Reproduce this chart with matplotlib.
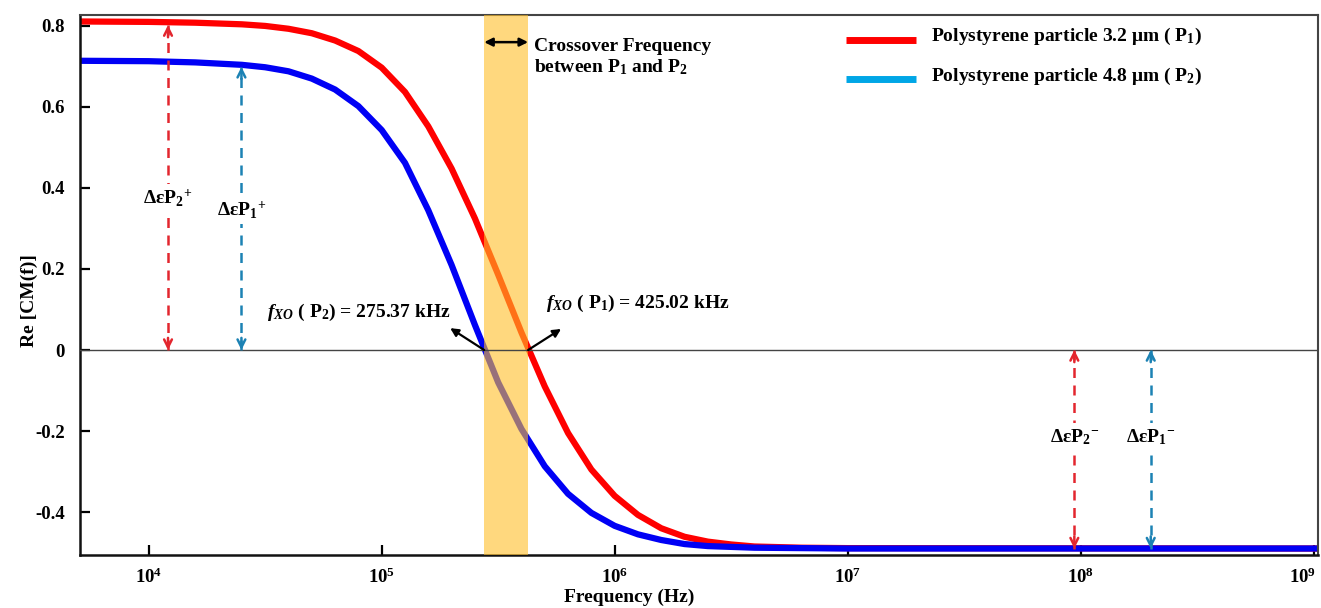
import numpy as np
import matplotlib
matplotlib.use("Agg")
import matplotlib.pyplot as plt
from matplotlib.lines import Line2D
from matplotlib.transforms import ScaledTranslation

# ---------------- data ----------------
red_logf = [3.70, 4.0, 4.2, 4.4, 4.5, 4.6, 4.7, 4.8, 4.9, 5.0, 5.1, 5.2, 5.3, 5.4, 5.5,
            5.6, 5.7, 5.8, 5.9, 6.0, 6.1, 6.2, 6.3, 6.4, 6.5, 6.6, 6.8, 7.0, 9.03]
red_val = [0.811, 0.810, 0.808, 0.804, 0.800, 0.793, 0.782, 0.764, 0.738, 0.697, 0.637,
           0.552, 0.448, 0.325, 0.186, 0.043, -0.090, -0.205, -0.295, -0.360, -0.407,
           -0.440, -0.461, -0.473, -0.480, -0.485, -0.488, -0.489, -0.490]

blue_logf = [3.70, 4.0, 4.2, 4.4, 4.5, 4.6, 4.7, 4.8, 4.9, 5.0, 5.1, 5.2, 5.3, 5.4, 5.5,
             5.6, 5.7, 5.8, 5.9, 6.0, 6.1, 6.2, 6.3, 6.4, 6.6, 7.0, 9.03]
blue_val = [0.714, 0.713, 0.710, 0.704, 0.698, 0.688, 0.670, 0.643, 0.602, 0.543, 0.462,
            0.345, 0.210, 0.062, -0.080, -0.195, -0.287, -0.355, -0.402, -0.434, -0.455,
            -0.469, -0.479, -0.484, -0.488, -0.490, -0.490]

xo_p1 = 425.02e3
xo_p2 = 275.37e3

xticks = [1e4, 1e5, 1e6, 1e7, 1e8, 1e9]
xtick_labels = [r"10$^{4}$", r"10$^{5}$", r"10$^{6}$", r"10$^{7}$", r"10$^{8}$", r"10$^{9}$"]
yticks = [-0.4, -0.2, 0.0, 0.2, 0.4, 0.6, 0.8]
ytick_labels = ["-0.4", "-0.2", "0", "0.2", "0.4", "0.6", "0.8"]

legend_labels = [r"Polystyrene particle 3.2 μm ( P$_1$)", r"Polystyrene particle 4.8 μm ( P$_2$)"]

# delta arrows
delta_f = [1.21e4, 2.5e4, 9.4e7, 2.0e8]
delta_y0 = [0.0, 0.0, 0.0, 0.0]
delta_y1 = [0.802, 0.699, -0.490, -0.490]
delta_lab = [r"ΔεP$_2$$^{+}$", r"ΔεP$_1$$^{+}$", r"ΔεP$_2$$^{-}$", r"ΔεP$_1$$^{-}$"]
delta_lab_y = [0.375, 0.346, -0.215, -0.215]
delta_col = ["#E3262E", "#1C82B4", "#E3262E", "#1C82B4"]

# ---------------- style ----------------
plt.rcParams["font.family"] = ["Liberation Serif", "DejaVu Serif"]
plt.rcParams["font.weight"] = "bold"
plt.rcParams["mathtext.fontset"] = "custom"
plt.rcParams["mathtext.rm"] = "Liberation Serif:bold"
plt.rcParams["mathtext.bf"] = "Liberation Serif:bold"
plt.rcParams["mathtext.it"] = "Liberation Serif:italic"

fig = plt.figure(figsize=(13.21, 6.08), dpi=100)
ax = fig.add_axes([80 / 1321, 53 / 608, 1238 / 1321, 540 / 608])
ax.set_xscale("log")
ax.set_xlim(10 ** 3.705, 10 ** 9.019)
ax.set_ylim(-0.506, 0.827)

ax.plot(10 ** np.array(red_logf), red_val, color="#FF0000", lw=4.5, zorder=2,
        solid_capstyle="butt", solid_joinstyle="round")
ax.plot(10 ** np.array(blue_logf), blue_val, color="#0000F5", lw=4.5, zorder=2,
        solid_capstyle="butt", solid_joinstyle="round")

ax.axvspan(xo_p2, xo_p1, color="#FFBE28", alpha=0.6, lw=0, zorder=3)
ax.axhline(0, color="#444444", lw=1.0, zorder=4)

# ticks
ax.set_xticks(xticks)
ax.set_xticklabels(xtick_labels)
ax.set_yticks(yticks)
ax.set_yticklabels(ytick_labels)
ax.minorticks_off()
ax.tick_params(axis="both", direction="in", length=7, width=1.6, labelsize=13.5)
ax.tick_params(axis="y", pad=11)
ax.tick_params(axis="x", pad=9)
last = ax.get_xticklabels()[-1]
last.set_transform(last.get_transform() + ScaledTranslation(-8 / 72, 0, fig.dpi_scale_trans))
for s in ["left", "bottom"]:
    ax.spines[s].set_linewidth(1.8)
    ax.spines[s].set_color("#111111")
for s in ["top", "right"]:
    ax.spines[s].set_linewidth(1.5)
    ax.spines[s].set_color("#444444")

ax.set_xlabel("Frequency (Hz)", fontsize=14, fontweight="bold")
ax.xaxis.set_label_coords(0.444, -0.062)
ax.set_ylabel("Re [CM(f)]", fontsize=14, fontweight="bold")
ax.yaxis.set_label_coords(-0.034, 0.472)

# delta arrows
for f, y0, y1, lab, ly, c in zip(delta_f, delta_y0, delta_y1, delta_lab, delta_lab_y, delta_col):
    ax.plot([f, f], [y0, y1], color=c, lw=1.8, ls=(0, (4, 3)), zorder=5)
    sgn = 1 if y1 > y0 else -1
    ax.annotate("", xy=(f, y1), xytext=(f, y1 - sgn * 0.03),
                arrowprops=dict(arrowstyle="->", color=c, lw=1.8, mutation_scale=14,
                                shrinkA=0, shrinkB=0), zorder=6)
    ax.annotate("", xy=(f, y0), xytext=(f, y0 + sgn * 0.03),
                arrowprops=dict(arrowstyle="->", color=c, lw=1.8, mutation_scale=14,
                                shrinkA=0, shrinkB=0), zorder=6)
    ax.text(f, ly, lab, ha="center", va="center", fontsize=14, fontweight="bold", zorder=7,
            bbox=dict(boxstyle="square,pad=0.2", fc="white", ec="none"))

# crossover double arrow and text
ax.annotate("", xy=(xo_p1, 0.760), xytext=(xo_p2, 0.760),
            arrowprops=dict(arrowstyle="<|-|>", color="black", lw=1.8, mutation_scale=12,
                            shrinkA=0, shrinkB=0), zorder=6)
ax.text(10 ** 5.655, 0.722, "Crossover Frequency\nbetween P$_1$ and P$_2$", ha="left", va="center",
        fontsize=14, fontweight="bold", linespacing=1.2, zorder=7)

# crossover annotations (arrows point from the crossing towards the text)
ax.text(10 ** 4.90, 0.094, r"$f_{XO}$ ( P$_2$) = 275.37 kHz", ha="center", va="center",
        fontsize=14, fontweight="bold", zorder=7)
ax.annotate("", xy=(10 ** 5.294, 0.054), xytext=(xo_p2, 0.0),
            arrowprops=dict(arrowstyle="-|>", color="black", lw=1.6, mutation_scale=12,
                            shrinkA=0, shrinkB=0), zorder=7)
ax.text(10 ** 6.10, 0.116, r"$f_{XO}$ ( P$_1$) = 425.02 kHz", ha="center", va="center",
        fontsize=14, fontweight="bold", zorder=7)
ax.annotate("", xy=(10 ** 5.770, 0.052), xytext=(xo_p1, 0.0),
            arrowprops=dict(arrowstyle="-|>", color="black", lw=1.6, mutation_scale=12,
                            shrinkA=0, shrinkB=0), zorder=7)

# custom legend
leg_cols = ["#FF0000", "#00A6E6"]
leg_y = [0.954, 0.881]
for c, yy, lab in zip(leg_cols, leg_y, legend_labels):
    ax.add_line(Line2D([0.619, 0.675], [yy, yy], transform=ax.transAxes, color=c, lw=5,
                       solid_capstyle="butt", zorder=7))
    ax.text(0.687, yy + 0.006, lab, transform=ax.transAxes, ha="left", va="center",
            fontsize=14, fontweight="bold", zorder=7)

fig.savefig("out.png", dpi=100)
